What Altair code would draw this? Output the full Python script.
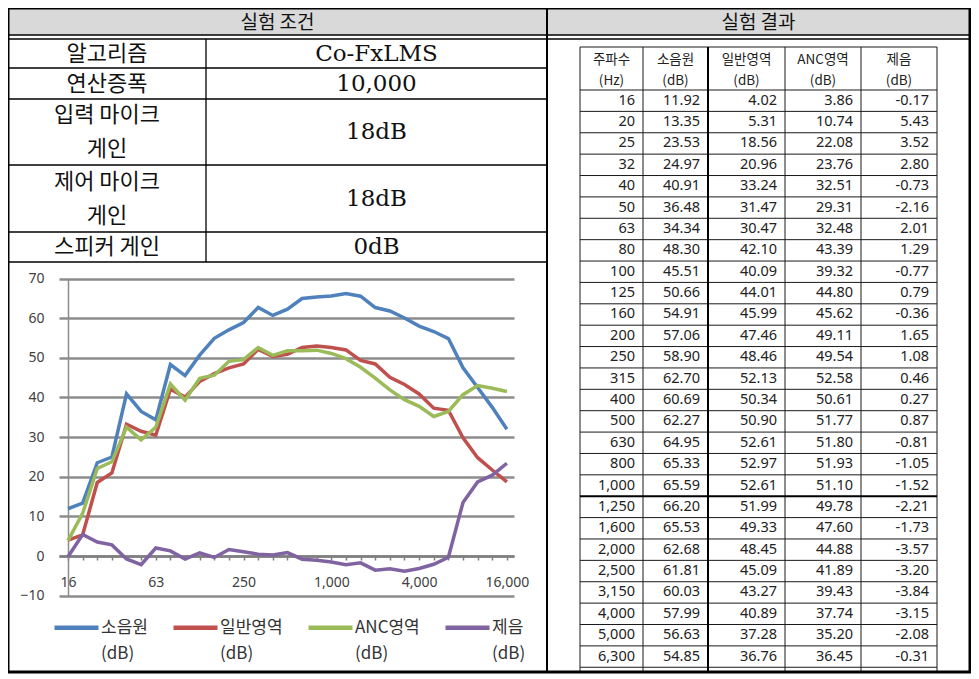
import json
import altair as alt
import pandas as pd

# ---------------- data ----------------
freq = [16, 20, 25, 32, 40, 50, 63, 80, 100, 125, 160, 200, 250, 315, 400, 500,
        630, 800, 1000, 1250, 1600, 2000, 2500, 3150, 4000, 5000, 6300,
        8000, 10000, 12500, 16000]
source = [11.92, 13.35, 23.53, 24.97, 40.91, 36.48, 34.34, 48.30, 45.51, 50.66, 54.91,
          57.06, 58.90, 62.70, 60.69, 62.27, 64.95, 65.33, 65.59, 66.20, 65.53, 62.68,
          61.81, 60.03, 57.99, 56.63, 54.85, 47.5, 42.5, 37.5, 32.0]
normal = [4.02, 5.31, 18.56, 20.96, 33.24, 31.47, 30.47, 42.10, 40.09, 44.01, 45.99,
          47.46, 48.46, 52.13, 50.34, 50.90, 52.61, 52.97, 52.61, 51.99, 49.33, 48.45,
          45.09, 43.27, 40.89, 37.28, 36.76, 29.8, 24.8, 21.7, 18.7]
anc = [3.86, 10.74, 22.08, 23.76, 32.51, 29.31, 32.48, 43.39, 39.32, 44.80, 45.62,
       49.11, 49.54, 52.58, 50.61, 51.77, 51.80, 51.93, 51.10, 49.78, 47.60, 44.88,
       41.89, 39.43, 37.74, 35.20, 36.45, 40.7, 43.0, 42.3, 41.5]
reduction = [-0.17, 5.43, 3.52, 2.80, -0.73, -2.16, 2.01, 1.29, -0.77, 0.79, -0.36,
             1.65, 1.08, 0.46, 0.27, 0.87, -0.81, -1.05, -1.52, -2.21, -1.73, -3.57,
             -3.20, -3.84, -3.15, -2.08, -0.31, 13.5, 18.7, 20.4, 23.4]
series_names = ["소음원", "일반영역", "ANC영역", "제음"]
series_colors = ["#4F81BD", "#C0504D", "#9BBB59", "#8064A2"]
table_rows = 27  # rows visible in the result table (16 .. 6,300 Hz)

section_titles = ["실험 조건", "실험 결과"]
cond_labels = [["알고리즘"], ["연산증폭"], ["입력 마이크", "게인"], ["제어 마이크", "게인"], ["스피커 게인"]]
cond_values = ["Co-FxLMS", "10,000", "18dB", "18dB", "0dB"]
result_headers = [["주파수", "(Hz)"], ["소음원", "(dB)"], ["일반영역", "(dB)"],
                  ["ANC영역", "(dB)"], ["제음", "(dB)"]]
y_ticks = list(range(-10, 71, 10))
x_label_every = 6

# ---------------- layout (image pixels) ----------------
W, H = 963, 666
OX, OY = 8, 8
FRAME = (8, 8, 970, 672)
HEAD_BAND = (9, 35)
HEAD_LINES = [35, 39]
DIV_X = 547
L_COL = 206
L_ROWS = [39, 68, 99, 165, 232, 262]
R_COLS = [580, 643, 708, 785, 861, 937]
R_TOP, R_HEAD_BOT, R_ROW_H = 47, 90, 21.38
R_THICK_ROW = 19
# chart geometry
CX0, CSTEP = 68, 14.63
GRID_X = (59, 514)
Y_ZERO, Y_PER10 = 556, 39.64

KFONT = "Noto Sans CJK KR"
SERIF = "DejaVu Serif"

px = alt.Scale(domain=[OX, OX + W], nice=False, zero=False)
py = alt.Scale(domain=[OY, OY + H], nice=False, zero=False, reverse=True)


def X(f="x"):
    return alt.X(f"{f}:Q", scale=px, axis=None)


def Y(f="y"):
    return alt.Y(f"{f}:Q", scale=py, axis=None)


def texts(rows, **mk):
    df = pd.DataFrame(rows, columns=["x", "y", "t"])
    return alt.Chart(df).mark_text(baseline="middle", **mk).encode(x=X(), y=Y(), text="t:N")


def rules(segs, **mk):
    df = pd.DataFrame(segs, columns=["x", "y", "x2", "y2"])
    return alt.Chart(df).mark_rule(**mk).encode(
        x=X(), y=Y(), x2=alt.X2("x2:Q"), y2=alt.Y2("y2:Q"))


# header band
band = alt.Chart(pd.DataFrame([{"x": FRAME[0], "x2": FRAME[2], "y": HEAD_BAND[0], "y2": HEAD_BAND[1]}])) \
    .mark_rect(color="#d9d9d9").encode(x=X(), x2="x2:Q", y=Y(), y2="y2:Q")
frame = alt.Chart(pd.DataFrame([{"x": FRAME[0], "x2": FRAME[2], "y": FRAME[1], "y2": FRAME[3]}])) \
    .mark_rect(filled=False, color="black", strokeWidth=3).encode(x=X(), x2="x2:Q", y=Y(), y2="y2:Q")

# lines
thin_l = [(FRAME[0], y, FRAME[2], y) for y in HEAD_LINES]
thin_l += [(FRAME[0], y, DIV_X, y) for y in L_ROWS[1:]]
thin_l += [(L_COL, L_ROWS[0], L_COL, L_ROWS[-1])]
inner = []
thick_inner = []
row_ys = [R_TOP, R_HEAD_BOT] + [R_HEAD_BOT + k * R_ROW_H for k in range(1, table_rows + 1)]
for k, y in enumerate(row_ys):
    seg = (R_COLS[0], y, R_COLS[-1], y)
    (thick_inner if k - 1 == R_THICK_ROW else inner).append(seg)
for j, x in enumerate(R_COLS):
    seg = (x, R_TOP, x, FRAME[3])
    (thick_inner if j == 2 else inner).append(seg)

rules_left = rules(thin_l, color="black", strokeWidth=1.3)
rules_inner = rules(inner, color="#1a1a1a", strokeWidth=1)
rules_thick = rules(thick_inner + [(DIV_X, FRAME[1], DIV_X, FRAME[3])], color="black", strokeWidth=2)

# texts
title_rows = [((FRAME[0] + DIV_X) / 2, 23, section_titles[0]), ((DIV_X + FRAME[2]) / 2, 23, section_titles[1])]
lab_rows, val_rows = [], []
for i, (lab, val) in enumerate(zip(cond_labels, cond_values)):
    cy = (L_ROWS[i] + L_ROWS[i + 1]) / 2
    if len(lab) == 1:
        lab_rows.append(((FRAME[0] + L_COL) / 2, cy, lab[0]))
    else:
        lab_rows.append(((FRAME[0] + L_COL) / 2, cy - 17, lab[0]))
        lab_rows.append(((FRAME[0] + L_COL) / 2, cy + 17, lab[1]))
    val_rows.append(((L_COL + DIV_X) / 2, cy, val))

head_rows = []
for j, (a, b) in enumerate(result_headers):
    cx = (R_COLS[j] + R_COLS[j + 1]) / 2
    head_rows.append((cx, 60, a))
    head_rows.append((cx, 81, b))
cell_rows = []
for k in range(table_rows):
    cy = R_HEAD_BOT + (k + 0.5) * R_ROW_H
    vals = [f"{freq[k]:,}", f"{source[k]:.2f}", f"{normal[k]:.2f}", f"{anc[k]:.2f}", f"{reduction[k]:.2f}"]
    for j, v in enumerate(vals):
        cell_rows.append((R_COLS[j + 1] - 8, cy, v))

t_titles = texts(title_rows, font=KFONT, fontSize=19, color="#111111", align="center")
t_labels = texts(lab_rows, font=KFONT, fontSize=22, color="#111111", align="center")
t_values = texts(val_rows, font=SERIF, fontSize=23, color="#111111", align="center")
t_heads = texts(head_rows, font=KFONT, fontSize=13.5, color="#222222", align="center")
t_cells = texts(cell_rows, font="Noto Sans", fontSize=14.5, color="#222222", align="right")

table = alt.layer(band, rules_left, rules_inner, rules_thick, t_titles, t_labels, t_values,
                  t_heads, t_cells, frame)

# ---------------- line chart ----------------
rows = []
for s, vals in zip(series_names, [source, normal, anc, reduction]):
    for i, v in enumerate(vals):
        rows.append({"idx": i, "val": v, "series": s})
lines_df = pd.DataFrame(rows)

x_lo = (GRID_X[0] - CX0) / CSTEP
x_hi = (GRID_X[1] - CX0) / CSTEP
cx_scale = alt.Scale(domain=[x_lo, x_hi], range=[GRID_X[0] - OX, GRID_X[1] - OX], nice=False, zero=False)
y_bot = Y_ZERO + Y_PER10
y_top = Y_ZERO - 7 * Y_PER10
cy_scale = alt.Scale(domain=[-10, 70], range=[y_bot - OY, y_top - OY], nice=False, zero=False)

x_labels = [f"{f:,}" if i % x_label_every == 0 else "" for i, f in enumerate(freq)]
label_expr = json.dumps(x_labels) + "[datum.value]"

lines = alt.Chart(lines_df).mark_line(strokeWidth=3.5).encode(
    x=alt.X("idx:Q", scale=cx_scale, axis=alt.Axis(
        orient="bottom", offset=-(OY + H - Y_ZERO), values=list(range(len(freq))),
        labelExpr=label_expr, grid=False, domainColor="#7f7f7f", domainWidth=2.5,
        tickColor="#7f7f7f", tickSize=4, tickWidth=1.5, labelPadding=15,
        labelFont="Noto Sans", labelFontSize=14, labelColor="#404040",
        labelOverlap=False, labelFlush=False, title=None)),
    y=alt.Y("val:Q", scale=cy_scale, axis=alt.Axis(
        orient="left", offset=-(CX0 - OX), values=y_ticks, grid=True,
        gridColor="#8c8c8c", gridWidth=2.5, domainColor="#8c8c8c", domainWidth=1.5,
        ticks=False, labelPadding=24, labelFont="Noto Sans", labelFontSize=14,
        labelColor="#404040", labelFlush=False, labelOverlap=False, title=None)),
    color=alt.Color("series:N", sort=series_names,
                    scale=alt.Scale(domain=series_names, range=series_colors),
                    legend=alt.Legend(
                        title=None, orient="none", legendX=52 - OX, legendY=625 - OY - 22,
                        direction="horizontal", symbolType="stroke", symbolSize=44 * 44,
                        symbolStrokeWidth=4.5, labelFont=KFONT, labelFontSize=17,
                        labelColor="#333333", labelExpr="[datum.label, '(dB)']",
                        labelOffset=0, columnPadding=16, padding=0, labelBaseline="middle")),
)

chart = alt.layer(table, lines).resolve_scale(x="independent", y="independent").properties(
    width=W, height=H, padding=0, autosize=alt.AutoSizeParams(type="none"),
    background="white",
).configure(
    view=alt.ViewConfig(strokeWidth=0),
    style={"guide-label": {"lineHeight": 26}},
)

chart.save("out.html", embed_options={"renderer": "svg", "actions": False})
